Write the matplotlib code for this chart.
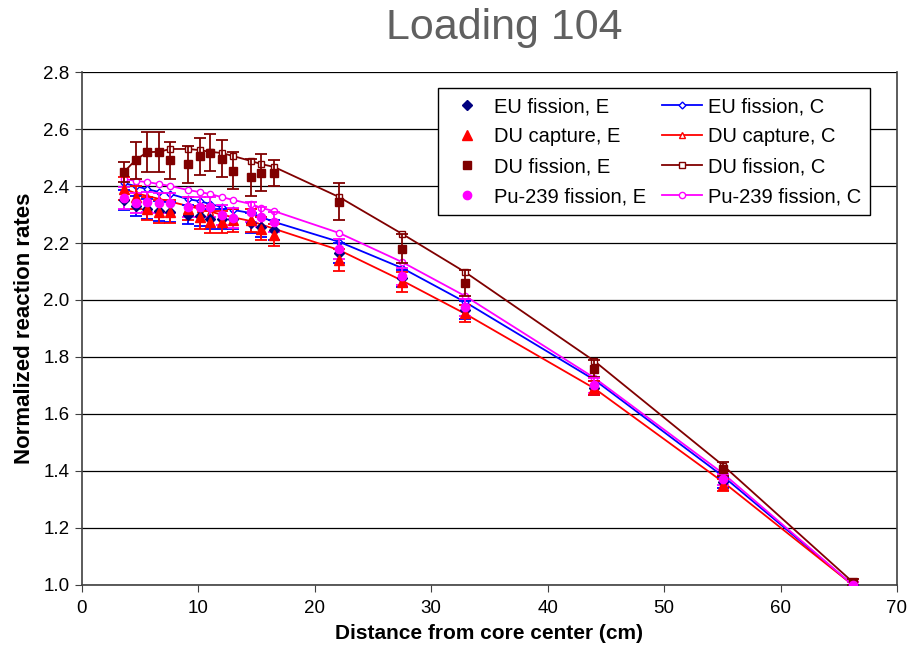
import numpy as np
import matplotlib.pyplot as plt

plt.rcParams['font.family'] = ['Liberation Sans', 'DejaVu Sans']

# distance from core center (cm)
x = [3.6, 4.6, 5.6, 6.6, 7.6, 9.1, 10.1, 11.0, 12.0, 13.0, 14.5, 15.4, 16.5,
     22.1, 27.5, 32.9, 44.0, 55.1, 66.2]

# experiment (E) values and errors
eu_fis_e = [2.35, 2.33, 2.32, 2.312, 2.309, 2.30, 2.295, 2.284, 2.284, 2.284, 2.27, 2.256, 2.246,
            2.165, 2.077, 1.965, 1.69, 1.36, 1.00]
eu_fis_err = [0.035, 0.035, 0.035, 0.035, 0.035, 0.035, 0.035, 0.035, 0.035, 0.035, 0.035, 0.035, 0.035,
              0.035, 0.03, 0.03, 0.025, 0.02, 0.01]
du_cap_e = [2.39, 2.36, 2.32, 2.31, 2.31, 2.32, 2.29, 2.274, 2.274, 2.28, 2.28, 2.25, 2.228,
            2.14, 2.063, 1.954, 1.69, 1.35, 1.00]
du_cap_err = [0.04, 0.04, 0.04, 0.04, 0.04, 0.04, 0.04, 0.04, 0.04, 0.04, 0.04, 0.04, 0.04,
              0.04, 0.035, 0.03, 0.025, 0.02, 0.01]
du_fis_e = [2.45, 2.49, 2.52, 2.52, 2.49, 2.477, 2.505, 2.516, 2.495, 2.453, 2.43, 2.446, 2.446,
            2.344, 2.18, 2.06, 1.758, 1.407, 1.01]
du_fis_err = [0.035, 0.065, 0.07, 0.07, 0.065, 0.065, 0.065, 0.065, 0.065, 0.065, 0.065, 0.065, 0.045,
              0.065, 0.05, 0.045, 0.03, 0.025, 0.01]
pu_fis_e = [2.358, 2.34, 2.344, 2.34, 2.34, 2.326, 2.326, 2.326, 2.298, 2.288, 2.309, 2.291, 2.274,
            2.18, 2.084, 1.975, 1.70, 1.37, 1.00]
pu_fis_err = [0.04, 0.035, 0.035, 0.035, 0.035, 0.035, 0.035, 0.035, 0.035, 0.035, 0.035, 0.035, 0.035,
              0.035, 0.03, 0.03, 0.025, 0.02, 0.01]

# calculation (C) values
eu_fis_c = [2.41, 2.40, 2.389, 2.379, 2.372, 2.354, 2.347, 2.337, 2.326, 2.316, 2.305, 2.291, 2.274,
            2.204, 2.112, 1.993, 1.72, 1.38, 1.00]
du_cap_c = [2.39, 2.375, 2.365, 2.355, 2.345, 2.33, 2.32, 2.31, 2.30, 2.29, 2.277, 2.265, 2.25,
            2.175, 2.068, 1.952, 1.69, 1.36, 1.00]
du_fis_c = [2.449, 2.491, 2.519, 2.52, 2.53, 2.53, 2.526, 2.52, 2.516, 2.505, 2.488, 2.477, 2.467,
            2.361, 2.232, 2.098, 1.786, 1.418, 1.01]
pu_fis_c = [2.425, 2.418, 2.414, 2.407, 2.40, 2.386, 2.379, 2.372, 2.361, 2.351, 2.337, 2.323, 2.312,
            2.235, 2.133, 2.014, 1.727, 1.39, 1.00]

fig = plt.figure(figsize=(9.11, 6.55), dpi=100)
ax = fig.add_axes([0.090, 0.107, 0.8946, 0.783])

ax.grid(axis='y', color='black', linewidth=0.9)
ax.set_axisbelow(True)

# calculated curves
c_series = [
    (eu_fis_c, '#0000FF', 'D', 'EU fission, C', 3.5),
    (du_cap_c, '#FF0000', '^', 'DU capture, C', 5),
    (du_fis_c, '#800000', 's', 'DU fission, C', 4.5),
    (pu_fis_c, '#FF00FF', 'o', 'Pu-239 fission, C', 4.5),
]
c_handles = []
for yv, col, mk, lab, ms in c_series:
    h, = ax.plot(x, yv, color=col, marker=mk, markersize=ms, markerfacecolor='white',
                 markeredgecolor=col, markeredgewidth=1.0, linewidth=1.3, label=lab, zorder=3)
    c_handles.append(h)

# experimental points with error bars
e_series = [
    (eu_fis_e, eu_fis_err, '#000080', '#0000FF', 'D', 'EU fission, E', 5),
    (du_cap_e, du_cap_err, '#FF0000', '#FF0000', '^', 'DU capture, E', 6.5),
    (du_fis_e, du_fis_err, '#800000', '#800000', 's', 'DU fission, E', 5.5),
    (pu_fis_e, pu_fis_err, '#FF00FF', '#FF00FF', 'o', 'Pu-239 fission, E', 6),
]
e_handles = []
for yv, err, col, ecol, mk, lab, ms in e_series:
    ax.errorbar(x, yv, yerr=err, fmt='none', ecolor=ecol, elinewidth=1.3,
                capsize=4, capthick=1.3, zorder=4)
    h, = ax.plot(x, yv, linestyle='none', marker=mk, markersize=ms, color=col,
                 label=lab, zorder=5)
    e_handles.append(h)

ax.set_xlim(0, 70)
ax.set_ylim(1.0, 2.8)
ax.set_xticks(np.arange(0, 71, 10))
ax.set_yticks(np.arange(1.0, 2.81, 0.2))
ax.yaxis.set_major_formatter(plt.FormatStrFormatter('%.1f'))
ax.tick_params(labelsize=13.5, length=5, direction='out', color='#404040', pad=4)
ax.tick_params(axis='x', pad=6)

ax.spines['top'].set_visible(False)
for side in ['left', 'bottom', 'right']:
    ax.spines[side].set_color('#404040')
    ax.spines[side].set_linewidth(1.2)

ax.set_xlabel('Distance from core center (cm)', fontsize=15, fontweight='bold', labelpad=5)
ax.set_ylabel('Normalized reaction rates', fontsize=16, fontweight='bold', labelpad=6)

fig.text(0.553, 0.957, 'Loading 104', ha='center', va='center', fontsize=31, color='#606060')

leg = ax.legend(handles=e_handles + c_handles, ncol=2, loc='upper left',
                bbox_to_anchor=(0.437, 0.969), fontsize=14.5, frameon=True,
                fancybox=False, edgecolor='black', framealpha=1,
                handlelength=2.0, columnspacing=0.8, labelspacing=0.55,
                borderpad=0.45, handletextpad=0.3, borderaxespad=0)
leg.get_frame().set_linewidth(1.0)

fig.savefig('out.png', dpi=100)
